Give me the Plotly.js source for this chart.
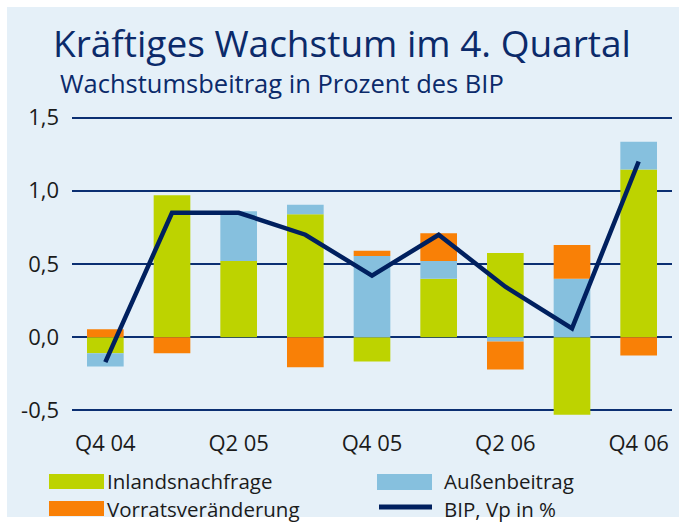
<!DOCTYPE html>
<html>
<head>
<meta charset="utf-8">
<script src="https://cdn.plot.ly/plotly-3.0.1.min.js"></script>
<style>html,body{margin:0;padding:0;background:#fff;}#chart{width:679px;height:528px;}</style>
</head>
<body>
<div id="chart"></div>
<script>
// ---- data ----
var quarters = ["Q4 04","Q1 05","Q2 05","Q3 05","Q4 05","Q1 06","Q2 06","Q3 06","Q4 06"];
var tickQuarters = ["Q4 04","Q2 05","Q4 05","Q2 06","Q4 06"];
var inlandsnachfrage = [-0.11, 0.97, 0.52, 0.84, -0.165, 0.40, 0.575, -0.53, 1.145];
var aussenbeitrag = [-0.09, 0.0, 0.34, 0.065, 0.555, 0.12, -0.03, 0.40, 0.19];
var vorratsveraenderung = [0.055, -0.11, 0.0, -0.205, 0.035, 0.19, -0.19, 0.23, -0.125];
var bip = [-0.17, 0.85, 0.85, 0.70, 0.42, 0.70, 0.345, 0.06, 1.20];
var yTicks = [-0.5, 0, 0.5, 1.0, 1.5];
var yTickText = ["-0,5","0,0","0,5","1,0","1,5"];
var seriesNames = ["Inlandsnachfrage","Außenbeitrag","Vorratsveränderung","BIP, Vp in %"];

// ---- styles ----
var W = 679, H = 528;
var M = {l: 72, r: 7, t: 100, b: 100};
var PW = W - M.l - M.r, PH = H - M.t - M.b;
function px(x){ return (x - M.l) / PW; }
function py(y){ return (H - M.b - y) / PH; }
var cGreen = "#BDD300", cBlue = "#86C0DE", cOrange = "#F98006", cNavy = "#00205F";
var font = "Open Sans, Noto Sans, sans-serif";
var txt = "#1b1b1b", navyText = "#0B2A6A";

var traces = [
  {type:"bar", x:quarters, y:inlandsnachfrage, name:seriesNames[0], marker:{color:cGreen}, showlegend:false},
  {type:"bar", x:quarters, y:aussenbeitrag, name:seriesNames[1], marker:{color:cBlue}, showlegend:false},
  {type:"bar", x:quarters, y:vorratsveraenderung, name:seriesNames[2], marker:{color:cOrange}, showlegend:false},
  {type:"scatter", mode:"lines", x:quarters, y:bip, name:seriesNames[3], line:{color:cNavy, width:4.5}, showlegend:false}
];

var shapes = [
  {type:"rect", xref:"paper", yref:"paper", x0:px(7), x1:px(W+5), y0:py(517), y1:py(7), fillcolor:"#E5F0F8", line:{width:0}, layer:"below"},
  {type:"rect", xref:"paper", yref:"paper", x0:px(49), x1:px(104), y0:py(489), y1:py(474), fillcolor:cGreen, line:{width:0}},
  {type:"rect", xref:"paper", yref:"paper", x0:px(49), x1:px(104), y0:py(516), y1:py(501), fillcolor:cOrange, line:{width:0}},
  {type:"rect", xref:"paper", yref:"paper", x0:px(377), x1:px(432), y0:py(490), y1:py(474), fillcolor:cBlue, line:{width:0}},
  {type:"line", xref:"paper", yref:"paper", x0:px(379), x1:px(432), y0:py(507), y1:py(507), line:{color:cNavy, width:5}}
];

var legFont = {family:font, size:20.5, color:txt};
function legText(x, y, t){
  return {xref:"paper", yref:"paper", x:px(x), y:py(y), xanchor:"left", yanchor:"middle", showarrow:false,
          borderpad:0, text:t, font:legFont};
}
var annotations = [
  {xref:"paper", yref:"paper", x:px(58), y:py(83), xanchor:"left", yanchor:"middle", showarrow:false,
   text:"Wachstumsbeitrag in Prozent des BIP", font:{family:font, size:25.5, color:navyText}},
  legText(106, 480.5, seriesNames[0]),
  legText(443, 480.5, seriesNames[1]),
  legText(106, 508.5, seriesNames[2]),
  legText(443, 508.5, seriesNames[3])
];

var layout = {
  width: W, height: H,
  margin: M,
  paper_bgcolor: "#ffffff",
  plot_bgcolor: "rgba(0,0,0,0)",
  barmode: "relative",
  bargap: 0.45,
  showlegend: false,
  title: {text:"Kräftiges Wachstum im 4. Quartal", xref:"container", yref:"container", x:53/W, y:1-44/H,
          xanchor:"left", yanchor:"middle", font:{family:font, size:37, color:navyText}},
  xaxis: {type:"category", tickmode:"array", tickvals:tickQuarters, ticktext:tickQuarters,
          showgrid:false, zeroline:false, showline:false, ticks:"",
          tickfont:{family:font, size:22, color:txt}, range:[-0.5, 8.5], fixedrange:true},
  yaxis: {range:[-0.62, 1.62], tickmode:"array", tickvals:yTicks, ticktext:yTickText,
          showgrid:true, gridcolor:"#0B2F72", gridwidth:2, zeroline:true, zerolinecolor:"#0B2F72", zerolinewidth:2,
          showline:false, ticks:"", ticklabelstandoff:12,
          tickfont:{family:font, size:22, color:txt}, fixedrange:true},
  shapes: shapes,
  annotations: annotations
};

Plotly.newPlot("chart", traces, layout, {displayModeBar:false, staticPlot:true});
</script>
</body>
</html>
